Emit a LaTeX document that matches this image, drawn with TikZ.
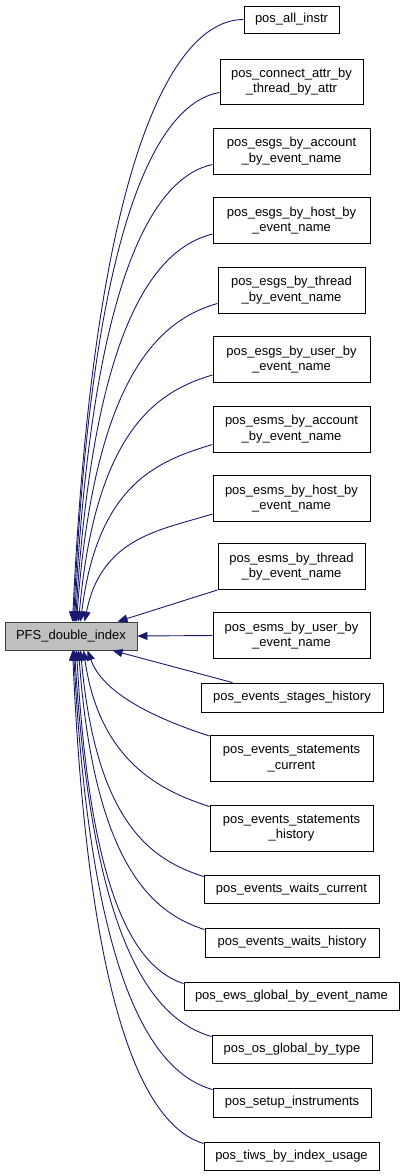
\documentclass[tikz,border=0pt]{standalone}
\usepackage{fontspec}
\setmainfont{Liberation Sans}
\usetikzlibrary{arrows.meta}
\definecolor{edgecol}{HTML}{191970}
\definecolor{pfsfill}{HTML}{BFBFBF}
\begin{document}
\begin{tikzpicture}[x=1pt,y=-1pt,
  box/.style={draw=black,line width=0.9pt,fill=white,inner sep=0pt,align=center,
    font=\fontsize{13}{15.5}\selectfont},
  root/.style={box,draw=black!75,fill=pfsfill},
  edge/.style={draw=edgecol,line width=0.9pt,-{Triangle[length=10pt,width=8pt]}}]
\useasboundingbox (0,0) rectangle (405,1176);
\node[root,minimum width=132pt,minimum height=28pt] (pfs) at (71,636) {PFS\_double\_index};
\node[box,minimum width=95pt,minimum height=27pt] (c1) at (291.5,19.5) {pos\_all\_instr};
\node[box,minimum width=143pt,minimum height=45pt] (c2) at (291.5,81.5) {pos\_connect\_attr\_by\\\_thread\_by\_attr};
\node[box,minimum width=157pt,minimum height=46pt] (c3) at (291.5,151) {pos\_esgs\_by\_account\\\_by\_event\_name};
\node[box,minimum width=157pt,minimum height=46pt] (c4) at (291.5,220.5) {pos\_esgs\_by\_host\_by\\\_event\_name};
\node[box,minimum width=147pt,minimum height=46pt] (c5) at (291.5,290) {pos\_esgs\_by\_thread\\\_by\_event\_name};
\node[box,minimum width=157pt,minimum height=46pt] (c6) at (291.5,359.5) {pos\_esgs\_by\_user\_by\\\_event\_name};
\node[box,minimum width=157pt,minimum height=46pt] (c7) at (291.5,429) {pos\_esms\_by\_account\\\_by\_event\_name};
\node[box,minimum width=157pt,minimum height=46pt] (c8) at (291.5,498.5) {pos\_esms\_by\_host\_by\\\_event\_name};
\node[box,minimum width=147pt,minimum height=46pt] (c9) at (291.5,566.5) {pos\_esms\_by\_thread\\\_by\_event\_name};
\node[box,minimum width=157pt,minimum height=46pt] (c10) at (291.5,635.5) {pos\_esms\_by\_user\_by\\\_event\_name};
\node[box,minimum width=182pt,minimum height=29pt] (c11) at (292,697.5) {pos\_events\_stages\_history};
\node[box,minimum width=163pt,minimum height=46pt] (c12) at (291.5,758.5) {pos\_events\_statements\\\_current};
\node[box,minimum width=163pt,minimum height=46pt] (c13) at (291.5,828) {pos\_events\_statements\\\_history};
\node[box,minimum width=175pt,minimum height=28pt] (c14) at (291.5,889) {pos\_events\_waits\_current};
\node[box,minimum width=174pt,minimum height=29pt] (c15) at (292,942.5) {pos\_events\_waits\_history};
\node[box,minimum width=215pt,minimum height=28pt] (c16) at (291.5,996) {pos\_ews\_global\_by\_event\_name};
\node[box,minimum width=160pt,minimum height=28pt] (c17) at (292,1049) {pos\_os\_global\_by\_type};
\node[box,minimum width=158pt,minimum height=29pt] (c18) at (292,1102.5) {pos\_setup\_instruments};
\node[box,minimum width=175pt,minimum height=28pt] (c19) at (291.5,1156) {pos\_tiws\_by\_index\_usage};
% upper group
\draw[edge] (c1.west) .. controls +(-68,0) and +(22,-470) .. ([xshift=68pt]pfs.north west);
\draw[edge] ([yshift=12pt]c2.south west) .. controls +(-58,10) and +(19,-413) .. ([xshift=69pt]pfs.north west);
\draw[edge] ([yshift=10pt]c3.south west) .. controls +(-55,12) and +(18,-357) .. ([xshift=70pt]pfs.north west);
\draw[edge] ([yshift=10pt]c4.south west) .. controls +(-55,14) and +(18,-303) .. ([xshift=71pt]pfs.north west);
\draw[edge] ([yshift=10pt]c5.south west) .. controls +(-56,16) and +(18,-249) .. ([xshift=72pt]pfs.north west);
\draw[edge] ([yshift=8pt]c6.south west) .. controls +(-54,16) and +(17,-193) .. ([xshift=74pt]pfs.north west);
\draw[edge] ([yshift=8pt]c7.south west) .. controls +(-53,16) and +(17,-139) .. ([xshift=76pt]pfs.north west);
\draw[edge] ([yshift=8pt]c8.south west) .. controls +(-51,16) and +(17,-85) .. ([xshift=80pt]pfs.north west);
\draw[edge] (c9.south west) -- ([xshift=113pt]pfs.north west);
\draw[edge] (c10.west) -- (pfs.east);
\draw[edge] ([xshift=32pt]c11.north west) -- ([xshift=108pt]pfs.south west);
% lower group
\draw[edge] ([yshift=-1pt]c12.north west) .. controls +(-49,-16) and +(16,45) .. ([xshift=83pt]pfs.south west);
\draw[edge] ([yshift=-2pt]c13.north west) .. controls +(-50,-16) and +(16,110) .. ([xshift=79pt]pfs.south west);
\draw[edge] ([yshift=-2pt]c14.north west) .. controls +(-49,-16) and +(16,177) .. ([xshift=76pt]pfs.south west);
\draw[edge] ([yshift=-2pt]c15.north west) .. controls +(-50,-16) and +(16,218) .. ([xshift=74pt]pfs.south west);
\draw[edge] ([yshift=-2pt]c16.north west) .. controls +(-43,-14) and +(14,260) .. ([xshift=72pt]pfs.south west);
\draw[edge] ([yshift=-2pt]c17.north west) .. controls +(-55,-16) and +(18,302) .. ([xshift=70pt]pfs.south west);
\draw[edge] ([yshift=-2pt]c18.north west) .. controls +(-56,-16) and +(18,343) .. ([xshift=69pt]pfs.south west);
\draw[edge] ([yshift=-2pt]c19.north west) .. controls +(-52,-16) and +(17,385) .. ([xshift=68pt]pfs.south west);
\end{tikzpicture}
\end{document}
